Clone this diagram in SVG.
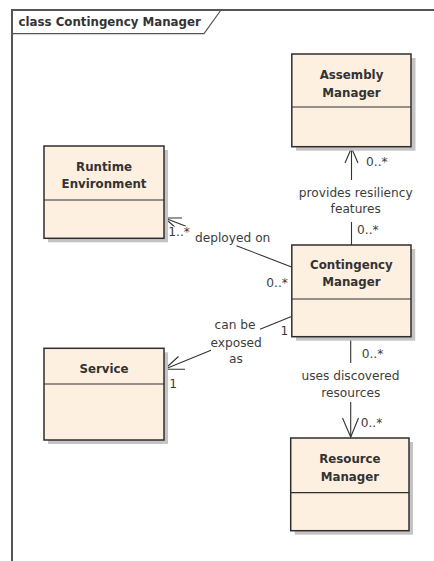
<svg xmlns="http://www.w3.org/2000/svg" width="434" height="561" viewBox="0 0 434 561">
  <style>
    .shadow { fill: #c4c4c4; }
    .box { fill: #fdf0e1; stroke: #2e2e2e; stroke-width: 1.5; }
    .div { stroke: #2e2e2e; stroke-width: 1.2; }
    .name { font-family: "DejaVu Sans", Verdana, sans-serif; font-weight: bold; font-size: 11.8px; fill: #333333; text-anchor: middle; }
    .lbl { font-family: "DejaVu Sans", Verdana, sans-serif; font-size: 12.2px; fill: #3c3c3c; }
    .mid { text-anchor: middle; }
    .conn { stroke: #333333; stroke-width: 1.1; fill: none; }
    .frame { stroke: #555555; fill: none; }
    .bg { fill: #ffffff; }
  </style>

  <rect x="0" y="0" width="434" height="561" fill="#ffffff"/>

  <!-- diagram frame and title tab -->
  <g id="frame">
    <path class="frame" stroke-width="2" d="M12,561 V10 H434"/>
    <path class="frame" stroke-width="1.2" d="M12,33.7 H204 L221,10"/>
    <text x="18.5" y="26" font-family="DejaVu Sans, Verdana, sans-serif" font-weight="bold" font-size="11.8px" fill="#333333">class Contingency Manager</text>
  </g>

  <!-- associations -->
  <g id="connectors">
    <!-- Contingency Manager -> Assembly Manager -->
    <line class="conn" x1="351.5" y1="148" x2="351.5" y2="180"/>
    <line class="conn" x1="351.5" y1="222" x2="351.5" y2="245"/>
    <polyline class="conn" points="345,163 351.5,148 358,163"/>
    <text class="lbl mid" x="355.8" y="196.5">provides resiliency</text>
    <text class="lbl mid" x="355.8" y="213">features</text>
    <text class="lbl" x="366" y="165.5">0..*</text>
    <text class="lbl" x="357" y="234">0..*</text>

    <!-- Contingency Manager -> Runtime Environment -->
    <line class="conn" x1="164.5" y1="218" x2="186" y2="226.3"/>
    <line class="conn" x1="236.5" y1="245.7" x2="291.5" y2="267"/>
    <polyline class="conn" points="182,218 164.5,218 176,228"/>
    <!-- multiplicity label sits on a white patch over the lower wing -->
    <rect class="bg" x="167.5" y="226.5" width="22" height="11"/>
    <text class="lbl" x="168.3" y="236">1..*</text>
    <text class="lbl" x="195" y="241.7">deployed on</text>
    <text class="lbl" x="266.3" y="287.3">0..*</text>

    <!-- Contingency Manager -> Service -->
    <line class="conn" x1="164.5" y1="369.3" x2="211" y2="350.3"/>
    <line class="conn" x1="260" y1="329.3" x2="291.5" y2="316.5"/>
    <polyline class="conn" points="178.5,356.5 164.5,369.3 185,369.3"/>
    <text class="lbl mid" x="235" y="329.3">can be</text>
    <text class="lbl mid" x="236.2" y="346.7">exposed</text>
    <text class="lbl mid" x="236" y="363.3">as</text>
    <text class="lbl" x="280.5" y="334.5">1</text>
    <text class="lbl" x="169.3" y="388.3">1</text>

    <!-- Contingency Manager -> Resource Manager -->
    <line class="conn" x1="350.7" y1="337" x2="350.7" y2="363"/>
    <line class="conn" x1="350.7" y1="402" x2="350.7" y2="437"/>
    <polyline class="conn" points="342.5,418 350.7,437 358.5,418"/>
    <text class="lbl" x="361.7" y="358.3">0..*</text>
    <text class="lbl mid" x="350.5" y="380">uses discovered</text>
    <text class="lbl mid" x="350.8" y="397.3">resources</text>
    <text class="lbl" x="360.7" y="427.3">0..*</text>
  </g>

  <!-- classes -->
  <g id="assembly-manager">
    <rect class="shadow" x="296" y="58" width="119.5" height="92.7"/>
    <rect class="box" x="291.8" y="54" width="119.2" height="92.7"/>
    <line class="div" x1="291.8" y1="107" x2="411" y2="107"/>
    <text class="name" x="351.5" y="79.3">Assembly</text>
    <text class="name" x="351.5" y="96.7">Manager</text>
  </g>

  <g id="runtime-environment">
    <rect class="shadow" x="48" y="150" width="120" height="92.3"/>
    <rect class="box" x="44" y="146" width="120" height="92.3"/>
    <line class="div" x1="44" y1="200" x2="164" y2="200"/>
    <text class="name" x="104" y="170.7">Runtime</text>
    <text class="name" x="104" y="188.3">Environment</text>
  </g>

  <g id="contingency-manager">
    <rect class="shadow" x="296" y="249" width="119.2" height="91.7"/>
    <rect class="box" x="291.8" y="245" width="119.2" height="91.7"/>
    <line class="div" x1="291.8" y1="299" x2="411" y2="299"/>
    <text class="name" x="351.4" y="269">Contingency</text>
    <text class="name" x="351.4" y="286">Manager</text>
  </g>

  <g id="service">
    <rect class="shadow" x="48" y="352.3" width="120" height="91.7"/>
    <rect class="box" x="44" y="348.3" width="120" height="91.7"/>
    <line class="div" x1="44" y1="384" x2="164" y2="384"/>
    <text class="name" x="104" y="372.7">Service</text>
  </g>

  <g id="resource-manager">
    <rect class="shadow" x="294.7" y="442" width="118.3" height="92.7"/>
    <rect class="box" x="290.7" y="438" width="118.3" height="92.7"/>
    <line class="div" x1="290.7" y1="492.7" x2="409" y2="492.7"/>
    <text class="name" x="349.9" y="463.3">Resource</text>
    <text class="name" x="349.9" y="480.7">Manager</text>
  </g>
</svg>
